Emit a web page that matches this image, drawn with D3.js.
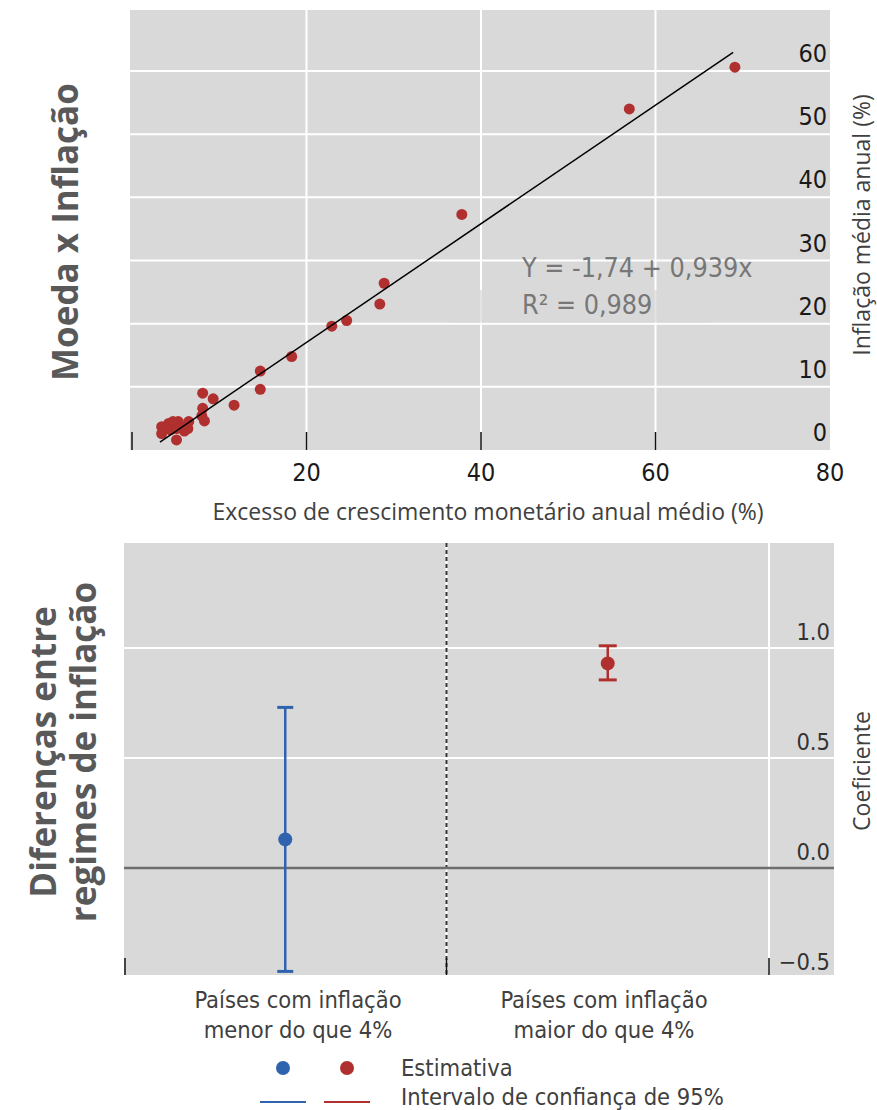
<!DOCTYPE html>
<html>
<head>
<meta charset="utf-8">
<script src="https://cdn.jsdelivr.net/npm/d3@7"></script>
<style>
  body { margin: 0; background: #fff; }
  svg { display: block; }
  .num { font-family: "Liberation Sans Narrow", "DejaVu Sans Condensed", "Open Sans", sans-serif; }
  .lbl { font-family: "Open Sans", "Noto Sans", sans-serif; }
</style>
</head>
<body>
<svg id="chart" width="877" height="1110"></svg>
<script>
// --- top panel: money growth vs inflation (x: excess money growth %, y: inflation %)
const scatterX = [69.1, 57.0, 37.8, 28.9, 28.4, 24.6, 22.9, 18.3, 14.7, 14.7, 11.7, 9.3, 8.1, 8.1, 8.0, 8.3,
  6.5, 6.4, 5.7, 5.3, 4.7, 4.2, 3.4, 3.4, 4.4, 5.1, 5.1, 6.0];
const scatterY = [60.6, 54.0, 37.3, 26.4, 23.1, 20.5, 19.6, 14.8, 12.5, 9.6, 7.1, 8.1, 9.0, 6.6, 5.4, 4.6,
  4.5, 3.4, 3.7, 4.5, 4.5, 4.2, 3.7, 2.6, 3.2, 3.4, 1.6, 3.0];
const fitIntercept = -1.74;
const fitSlope = 0.939;
const fitRange = [3.2, 68.9];
const topXTicks = [20, 40, 60, 80];
const topYTicks = [0, 10, 20, 30, 40, 50, 60];
const equationLines = ['Y = -1,74 + 0,939x', 'R² = 0,989'];

// --- bottom panel: coefficient by inflation regime
const regimes = ['baixa', 'alta'];
const regimeLabels = [['Países com inflação', 'menor do que 4%'], ['Países com inflação', 'maior do que 4%']];
const estimates = [0.13, 0.93];
const ciLow = [-0.47, 0.855];
const ciHigh = [0.73, 1.01];
const regimeColors = ['#2f63ad', '#b0302f'];
const botYTicks = [-0.5, 0.0, 0.5, 1.0];

const svg = d3.select('#chart');
const BG = '#d9d9d9';

// ================= TOP =================
const x1 = d3.scaleLinear().domain([0, 80]).range([132, 830]);
const y1 = d3.scaleLinear().domain([0, 60]).range([450, 71]);
const topG = svg.append('g');

topG.append('rect').attr('x', 130).attr('y', 10).attr('width', 700).attr('height', 440).attr('fill', BG);

topG.selectAll('line.hg').data(topYTicks.filter(d => d > 0)).join('line')
  .attr('x1', 130).attr('x2', 830).attr('y1', d => y1(d)).attr('y2', d => y1(d))
  .attr('stroke', '#fff').attr('stroke-width', 2);
topG.selectAll('line.vg').data(topXTicks.filter(d => d < 80)).join('line')
  .attr('x1', d => x1(d)).attr('x2', d => x1(d)).attr('y1', 10).attr('y2', 450)
  .attr('stroke', '#fff').attr('stroke-width', 2);

// equation box (washes out part of the gridline underneath)
topG.append('rect').attr('x', 452).attr('y', 290).attr('width', 258).attr('height', 32.6)
  .attr('fill', BG).attr('opacity', 0.7);

// tick marks along bottom
topG.selectAll('line.tk').data([0, 20, 40, 60]).join('line')
  .attr('x1', d => Math.max(131, x1(d))).attr('x2', d => Math.max(131, x1(d)))
  .attr('y1', 432).attr('y2', 450).attr('stroke', '#111').attr('stroke-width', 1.5);

topG.selectAll('circle').data(scatterX.map((v, i) => [v, scatterY[i]])).join('circle')
  .attr('cx', d => x1(d[0])).attr('cy', d => y1(d[1])).attr('r', 5.5).attr('fill', '#b0302f');

topG.append('line')
  .attr('x1', x1(fitRange[0])).attr('y1', y1(fitIntercept + fitSlope * fitRange[0]))
  .attr('x2', x1(fitRange[1])).attr('y2', y1(fitIntercept + fitSlope * fitRange[1]))
  .attr('stroke', '#000').attr('stroke-width', 1.5);

topG.selectAll('text.eq').data(equationLines).join('text')
  .attr('class', 'num').attr('x', 522).attr('y', (d, i) => 277 + i * 37)
  .attr('font-size', 26.7).attr('fill', '#777').text(d => d);

topG.selectAll('text.yt').data(topYTicks).join('text')
  .attr('class', 'num').attr('x', 827).attr('y', d => y1(d) - 9)
  .attr('text-anchor', 'end').attr('font-size', 25).attr('fill', '#1a1a1a').text(d => d);

topG.selectAll('text.xt').data(topXTicks).join('text')
  .attr('class', 'num').attr('x', d => x1(d)).attr('y', 481)
  .attr('text-anchor', 'middle').attr('font-size', 25).attr('fill', '#1a1a1a').text(d => d);

topG.append('text').attr('class', 'lbl').attr('x', 488).attr('y', 520)
  .attr('text-anchor', 'middle').attr('font-size', 23).attr('fill', '#404040')
  .text('Excesso de crescimento monetário anual médio (%)');

topG.append('text').attr('class', 'lbl')
  .attr('transform', 'translate(870,225) rotate(-90)')
  .attr('text-anchor', 'middle').attr('font-size', 23).attr('fill', '#404040')
  .text('Inflação média anual (%)');

topG.append('text').attr('class', 'lbl')
  .attr('transform', 'translate(78,232) rotate(-90)')
  .attr('text-anchor', 'middle').attr('font-size', 35).attr('font-weight', 'bold').attr('fill', '#595959')
  .text('Moeda x Inflação');

// ================= BOTTOM =================
const x2 = d3.scaleBand().domain(regimes).range([124, 769]);
const xLab = d3.scaleBand().domain(regimes).range([145, 757]);
const y2 = d3.scaleLinear().domain([-0.5, 1.0]).range([978, 648]);
const bot = svg.append('g');

bot.append('rect').attr('x', 124).attr('y', 543).attr('width', 710).attr('height', 432).attr('fill', BG);

bot.selectAll('line.hg').data([0.5, 1.0]).join('line')
  .attr('x1', 124).attr('x2', 834).attr('y1', d => y2(d)).attr('y2', d => y2(d))
  .attr('stroke', '#fff').attr('stroke-width', 2);
bot.append('line').attr('x1', x2.range()[1]).attr('x2', x2.range()[1]).attr('y1', 543).attr('y2', 975)
  .attr('stroke', '#fff').attr('stroke-width', 2);

// category divider
const divX = x2('alta');
bot.append('line').attr('x1', divX).attr('x2', divX).attr('y1', 543).attr('y2', 975)
  .attr('stroke', '#fff').attr('stroke-width', 2);
bot.append('line').attr('x1', divX).attr('x2', divX).attr('y1', 543).attr('y2', 975)
  .attr('stroke', '#333').attr('stroke-width', 2).attr('stroke-dasharray', '4,3');

bot.append('line').attr('x1', 124).attr('x2', 834).attr('y1', y2(0)).attr('y2', y2(0))
  .attr('stroke', '#6e6e6e').attr('stroke-width', 2.5);

bot.selectAll('line.tk').data([x2.range()[0] + 1, divX, x2.range()[1]]).join('line')
  .attr('x1', d => d).attr('x2', d => d).attr('y1', 958).attr('y2', 975)
  .attr('stroke', '#111').attr('stroke-width', 1.5);

const cx = d => x2(d) + x2.bandwidth() / 2;
const capW = [16, 18];
const eb = bot.selectAll('g.eb').data(regimes).join('g');
eb.append('line').attr('x1', cx).attr('x2', cx)
  .attr('y1', (d, i) => y2(ciLow[i])).attr('y2', (d, i) => y2(ciHigh[i]))
  .attr('stroke', (d, i) => regimeColors[i]).attr('stroke-width', 2.5);
[ciLow, ciHigh].forEach(arr => {
  eb.append('line')
    .attr('x1', (d, i) => cx(d) - capW[i] / 2).attr('x2', (d, i) => cx(d) + capW[i] / 2)
    .attr('y1', (d, i) => y2(arr[i])).attr('y2', (d, i) => y2(arr[i]))
    .attr('stroke', (d, i) => regimeColors[i]).attr('stroke-width', 3);
});
eb.append('circle').attr('cx', cx).attr('cy', (d, i) => y2(estimates[i])).attr('r', 7)
  .attr('fill', (d, i) => regimeColors[i]);

bot.selectAll('text.yt').data(botYTicks).join('text')
  .attr('class', 'num').attr('x', 830).attr('y', d => y2(d) - 8)
  .attr('text-anchor', 'end').attr('font-size', 23.5).attr('fill', '#333')
  .text(d => d < 0 ? '\u2212' + Math.abs(d).toFixed(1) : d.toFixed(1));

regimes.forEach((r, i) => {
  bot.append('text').attr('class', 'num')
    .attr('x', xLab(r) + xLab.bandwidth() / 2).attr('text-anchor', 'middle')
    .attr('font-size', 23.5).attr('fill', '#404040')
    .selectAll('tspan').data(regimeLabels[i]).join('tspan')
    .attr('x', xLab(r) + xLab.bandwidth() / 2).attr('y', (d, j) => 1008 + j * 30).text(d => d);
});

bot.append('text').attr('class', 'lbl')
  .attr('transform', 'translate(870,771) rotate(-90)')
  .attr('text-anchor', 'middle').attr('font-size', 23).attr('fill', '#404040')
  .text('Coeficiente');

bot.append('text').attr('class', 'lbl')
  .attr('transform', 'translate(0,752) rotate(-90)')
  .attr('text-anchor', 'middle').attr('font-size', 35).attr('font-weight', 'bold').attr('fill', '#595959')
  .selectAll('tspan').data(['Diferenças entre', 'regimes de inflação']).join('tspan')
  .attr('x', 0).attr('y', (d, i) => 56 + i * 40).text(d => d);

// legend
const leg = svg.append('g');
const legX = [283, 347];
leg.selectAll('circle').data(regimeColors).join('circle')
  .attr('cx', (d, i) => legX[i]).attr('cy', 1068).attr('r', 7).attr('fill', d => d);
leg.selectAll('line').data(regimeColors).join('line')
  .attr('x1', (d, i) => legX[i] - 23).attr('x2', (d, i) => legX[i] + 23)
  .attr('y1', 1102).attr('y2', 1102).attr('stroke', d => d).attr('stroke-width', 2);
leg.selectAll('text').data(['Estimativa', 'Intervalo de confiança de 95%']).join('text')
  .attr('class', 'num').attr('x', 401).attr('y', (d, i) => 1076 + i * 29)
  .attr('font-size', 23.5).attr('fill', '#404040').text(d => d);
</script>
</body>
</html>
